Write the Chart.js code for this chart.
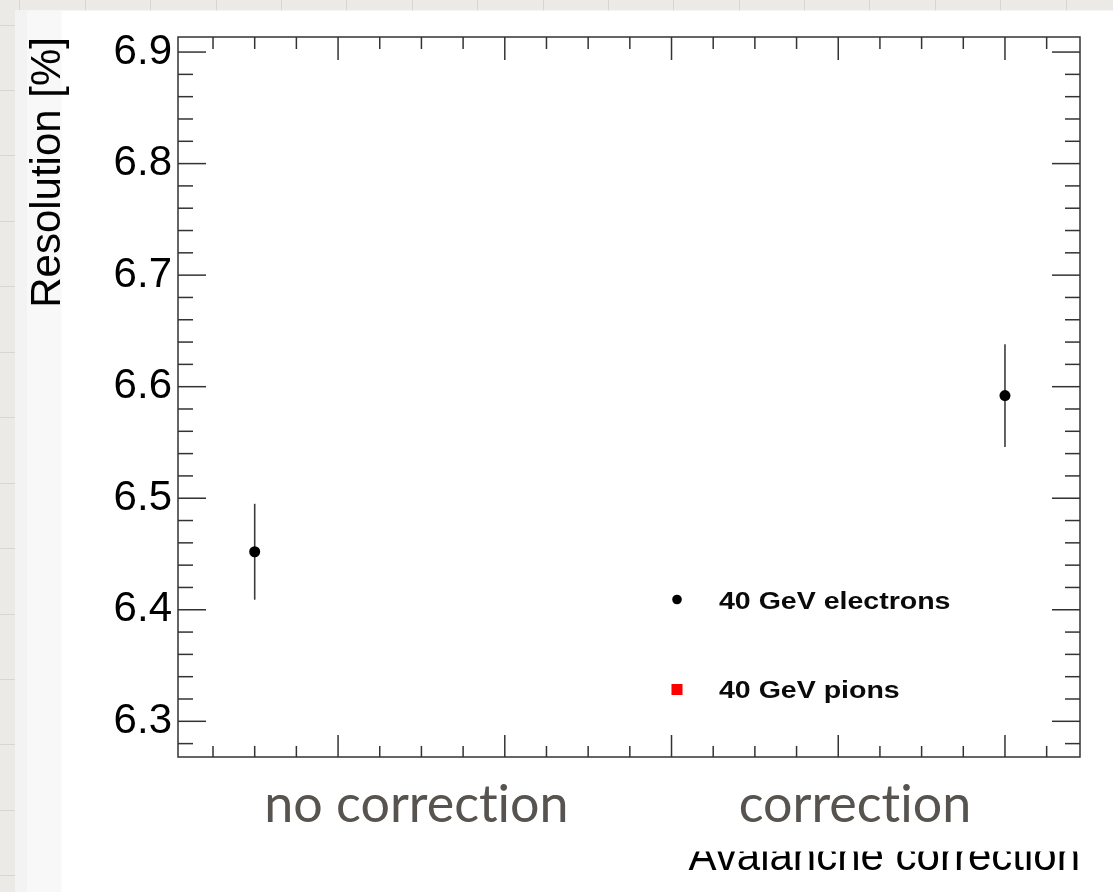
<!DOCTYPE html>
<html>
<head>
<meta charset="utf-8">
<script src="https://cdn.jsdelivr.net/npm/chart.js@4.4.1/dist/chart.umd.min.js"></script>
<style>
  html, body { margin: 0; padding: 0; background: #ffffff; }
  canvas { display: block; }
</style>
</head>
<body>
<canvas id="c" width="1113" height="892"></canvas>
<script>
// Measured energy resolution with and without the avalanche correction
const categories = ['no correction', 'correction'];
const categoryX = [0.5, 5.0];            // where each measurement sits on the x axis
const categoryLabelX = [1.47, 4.10];     // where the category captions are written
const electronResolution = [6.452, 6.592];
const electronError = [0.043, 0.046];
const pionResolution = [];               // no pion points inside the plotted range
const yTickValues = [6.3, 6.4, 6.5, 6.6, 6.7, 6.8, 6.9];
const seriesNames = ['40 GeV electrons', '40 GeV pions'];

const HELV = '"Liberation Sans", Arial, Helvetica, sans-serif';

// Slide backdrop: squared paper strip, white panel and a soft left margin
const backdrop = {
  id: 'backdrop',
  beforeDraw(chart) {
    const { ctx, width, height } = chart;
    // plain glyphs, no ligatures
    if ('textRendering' in ctx) ctx.textRendering = 'optimizeSpeed';
    ctx.save();
    ctx.fillStyle = '#ebeae6';
    ctx.fillRect(0, 0, width, height);
    ctx.strokeStyle = '#d7d6d2';
    ctx.lineWidth = 1;
    for (let x = 19.3; x < width; x += 65.4) {
      ctx.beginPath(); ctx.moveTo(Math.round(x) + 0.5, 0); ctx.lineTo(Math.round(x) + 0.5, height); ctx.stroke();
    }
    for (let y = 24.5; y < height; y += 65.45) {
      ctx.beginPath(); ctx.moveTo(0, Math.round(y) + 0.5); ctx.lineTo(width, Math.round(y) + 0.5); ctx.stroke();
    }
    ctx.fillStyle = '#ffffff';
    ctx.fillRect(15, 10.5, width - 15, height - 10.5);
    ctx.fillStyle = '#f3f3f3';
    ctx.fillRect(15, 10.5, 12.5, height - 10.5);
    ctx.fillStyle = '#f8f8f8';
    ctx.fillRect(27.5, 10.5, 34, height - 10.5);
    ctx.restore();
  }
};

// ROOT-style frame with inward major and minor ticks on all four sides
const frameTicks = {
  id: 'frameTicks',
  beforeDatasetsDraw(chart) {
    const { ctx, chartArea: a, scales: { x, y } } = chart;
    ctx.save();
    ctx.strokeStyle = '#333333';
    ctx.lineWidth = 1.5;
    ctx.strokeRect(a.left, a.top, a.right - a.left, a.bottom - a.top);
    const seg = (x1, y1, x2, y2) => { ctx.beginPath(); ctx.moveTo(x1, y1); ctx.lineTo(x2, y2); ctx.stroke(); };
    // x axis: major every 1, minor every 0.25
    for (let i = 1; i * 0.25 < x.max; i++) {
      const v = i * 0.25;
      if (v < x.min) continue;
      const px = x.getPixelForValue(v);
      const major = i % 4 === 0;
      const lb = major ? 22 : 11;
      const lt = major ? 23 : 12;
      seg(px, a.bottom, px, a.bottom - lb);
      seg(px, a.top, px, a.top + lt);
    }
    // y axis: major every 0.1, minor every 0.02
    for (let i = Math.ceil(y.min / 0.02 - 1e-6); i * 0.02 <= y.max + 1e-9; i++) {
      const v = i * 0.02;
      const py = y.getPixelForValue(v);
      const major = i % 5 === 0;
      const l = major ? 28 : 15;
      seg(a.left, py, a.left + l, py);
      seg(a.right, py, a.right - l, py);
    }
    ctx.restore();
  }
};

// Vertical error bars drawn under the markers
const errorBars = {
  id: 'errorBars',
  beforeDatasetsDraw(chart) {
    const { ctx, scales: { x, y } } = chart;
    ctx.save();
    ctx.strokeStyle = '#3c3c3c';
    ctx.lineWidth = 1.6;
    electronResolution.forEach((v, i) => {
      const px = x.getPixelForValue(categoryX[i]);
      ctx.beginPath();
      ctx.moveTo(px, y.getPixelForValue(v - electronError[i]));
      ctx.lineTo(px, y.getPixelForValue(v + electronError[i]));
      ctx.stroke();
    });
    ctx.restore();
  }
};

// Legend inside the frame, drawn with each dataset's own marker style
const legendBox = {
  id: 'legendBox',
  afterDraw(chart) {
    const { ctx } = chart;
    const rows = [
      { ds: chart.data.datasets[0], mx: 677, my: 599.5, ty: 609 },
      { ds: chart.data.datasets[1], mx: 677, my: 689.5, ty: 698 }
    ];
    ctx.save();
    rows.forEach(r => {
      ctx.fillStyle = r.ds.pointBackgroundColor;
      ctx.strokeStyle = r.ds.pointBorderColor;
      ctx.lineWidth = 0;
      Chart.helpers.drawPoint(ctx, { pointStyle: r.ds.pointStyle, radius: r.ds.legendRadius, borderWidth: 0, rotation: 0 }, r.mx, r.my);
      ctx.save();
      ctx.translate(719, r.ty);
      ctx.scale(1.24, 1);
      ctx.fillStyle = '#0a0a0a';
      ctx.font = 'bold 23px ' + HELV;
      ctx.textBaseline = 'alphabetic';
      ctx.textAlign = 'left';
      ctx.fillText(r.ds.label, 0, 0);
      ctx.restore();
    });
    // caption box of "correction" sits over the upper part of the axis title
    ctx.fillStyle = '#ffffff';
    ctx.fillRect(640, 834, 473, 17.5);
    ctx.restore();
  }
};

new Chart(document.getElementById('c'), {
  type: 'scatter',
  data: {
    datasets: [
      {
        label: seriesNames[0],
        data: electronResolution.map((v, i) => ({ x: categoryX[i], y: v })),
        pointStyle: 'circle',
        pointRadius: 5.5,
        legendRadius: 4.8,
        pointBackgroundColor: '#000000',
        pointBorderColor: '#000000',
        pointBorderWidth: 0,
        showLine: false
      },
      {
        label: seriesNames[1],
        data: pionResolution.map((v, i) => ({ x: categoryX[i], y: v })),
        pointStyle: 'rect',
        pointRadius: 7.8,
        legendRadius: 7.8,
        pointBackgroundColor: '#ff0000',
        pointBorderColor: '#ff0000',
        pointBorderWidth: 0,
        showLine: false
      }
    ]
  },
  options: {
    responsive: false,
    animation: false,
    devicePixelRatio: 1,
    layout: { padding: { left: 0, top: 37, right: 33, bottom: 0 } },
    plugins: { legend: { display: false }, tooltip: { enabled: false } },
    scales: {
      x: {
        type: 'linear',
        position: 'bottom',
        min: 0.04,
        max: 5.45,
        grid: { display: false, drawTicks: false },
        border: { display: false },
        afterBuildTicks: s => { s.ticks = categoryLabelX.map(v => ({ value: v })); },
        afterFit: s => { s.height = 135; },
        ticks: {
          autoSkip: false,
          maxRotation: 0,
          minRotation: 0,
          padding: 17,
          color: '#57534f',
          font: { family: 'Lato, "Open Sans", sans-serif', size: 52 },
          callback: (v, i) => categories[i]
        },
        title: {
          display: true,
          text: 'Avalanche correction',
          align: 'end',
          color: '#000000',
          font: { family: HELV, size: 42 },
          padding: { top: 0, bottom: 8 }
        }
      },
      y: {
        type: 'linear',
        position: 'left',
        min: 6.268,
        max: 6.9135,
        grid: { display: false, drawTicks: false },
        border: { display: false },
        afterBuildTicks: s => { s.ticks = yTickValues.map(v => ({ value: v })); },
        afterFit: s => { s.width = 178; },
        ticks: {
          autoSkip: false,
          padding: 6,
          color: '#000000',
          font: { family: HELV, size: 42 },
          callback: v => Number(v).toFixed(1)
        },
        title: {
          display: true,
          text: 'Resolution [%]',
          align: 'end',
          color: '#000000',
          font: { family: HELV, size: 42 },
          padding: { top: 23, bottom: 0 }
        }
      }
    }
  },
  plugins: [backdrop, frameTicks, errorBars, legendBox]
});
</script>
</body>
</html>
